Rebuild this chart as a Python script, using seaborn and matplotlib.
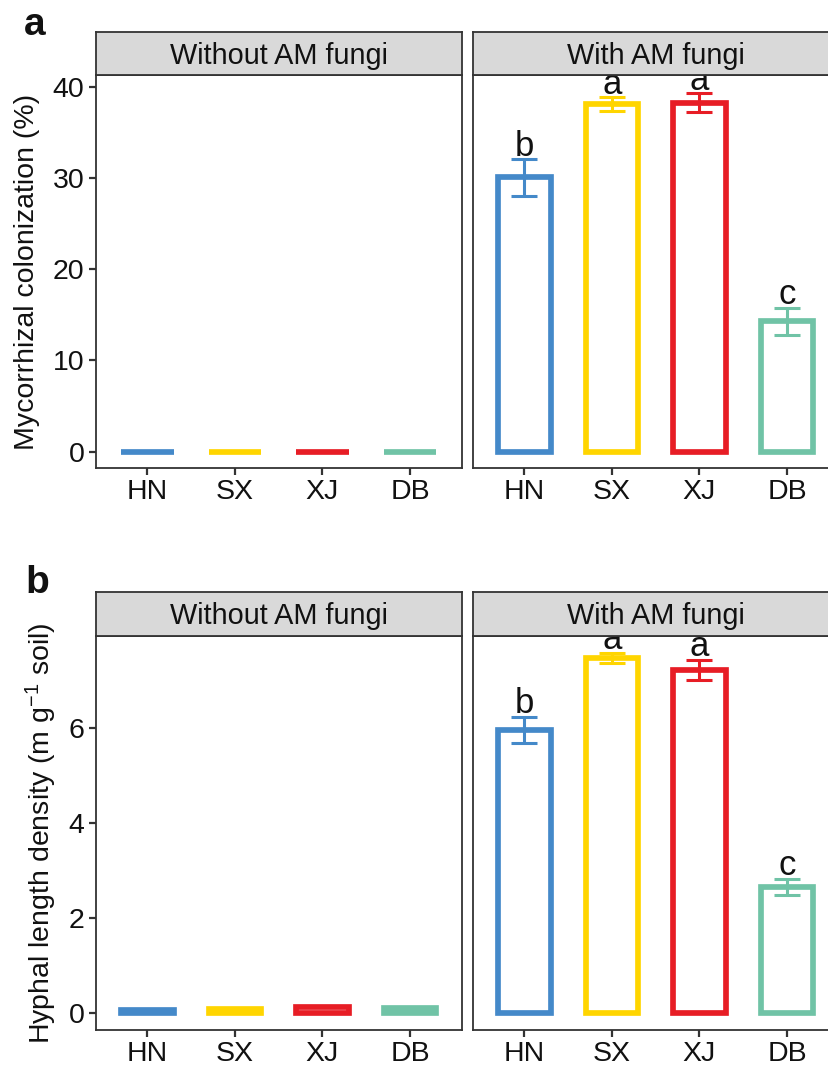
import matplotlib
matplotlib.use("Agg")
import matplotlib.pyplot as plt
import seaborn as sns
import pandas as pd

# data
sites = ["HN", "SX", "XJ", "DB"]
colors = ["#4489C9", "#FFD500", "#E71D25", "#70C3A6"]
facets = ["Without AM fungi", "With AM fungi"]

col_without = [0.0, 0.0, 0.0, 0.0]
col_with = [30.05, 38.1, 38.24, 14.3]
col_with_se = [2.0, 0.75, 1.04, 1.5]
col_letters = ["b", "a", "a", "c"]

hyp_without = [0.07, 0.10, 0.14, 0.11]
hyp_with = [5.96, 7.48, 7.23, 2.66]
hyp_with_se = [0.28, 0.11, 0.21, 0.17]
hyp_letters = ["b", "a", "a", "c"]

sns.set_style("white")
plt.rcParams["font.family"] = ["Liberation Sans", "DejaVu Sans"]
plt.rcParams["mathtext.fontset"] = "custom"
plt.rcParams["mathtext.rm"] = "Liberation Sans"
plt.rcParams["mathtext.it"] = "Liberation Sans:italic"

W, H = 829, 1072
fig = plt.figure(figsize=(W / 100, H / 100), dpi=100)

FS = 20.5
dark = "#333333"
txt = "#111111"


def px_axes(x0, y0, x1, y1):
    return fig.add_axes([x0 / W, 1 - y1 / H, (x1 - x0) / W, (y1 - y0) / H])


def facet(x0, x1, top, strip_top, bottom, title, vals, se, letters, ylim, yticks, show_y):
    ax = px_axes(x0, top, x1, bottom)
    df = pd.DataFrame({"site": sites, "value": vals})
    sns.barplot(data=df, x="site", y="value", hue="site", palette=colors,
                fill=False, linewidth=4.1, width=0.6, errorbar=None,
                legend=False, ax=ax)
    for p in ax.patches:
        p.set_joinstyle("miter")
        p.set_facecolor("white")
    if se is not None:
        for i, (v, e, c, l) in enumerate(zip(vals, se, colors, letters)):
            ax.errorbar(i, v, yerr=e, color=c, capsize=9.5, elinewidth=2.2,
                        capthick=2.2, fmt="none", zorder=3)
            t = ax.annotate(l, xy=(i, v + e), xytext=(0, 2.5), textcoords="offset points",
                            ha="center", va="baseline", fontsize=25, color=txt)
            # letters are clipped at the panel edge, like in ggplot
            t.set_clip_box(ax.bbox)
            t.set_clip_on(True)
    ax.set_xlim(-0.59, 3.59)
    ax.set_ylim(*ylim)
    ax.set_yticks(yticks)
    ax.set_xlabel("")
    ax.set_ylabel("")
    ax.tick_params(axis="both", length=5, width=1.6, color=dark,
                   labelsize=FS, labelcolor=txt, pad=3, direction="out",
                   bottom=True, left=True)
    if not show_y:
        ax.tick_params(axis="y", left=False, labelleft=False)
    for s in ax.spines.values():
        s.set_color(dark)
        s.set_linewidth(1.3)
    # strip
    st = px_axes(x0, strip_top, x1, top)
    st.set_facecolor("#D9D9D9")
    st.set_xticks([])
    st.set_yticks([])
    for s in st.spines.values():
        s.set_color(dark)
        s.set_linewidth(1.3)
    st.text(0.5, 0.45, title, transform=st.transAxes,
            ha="center", va="center", fontsize=20.8, color=txt)
    return ax


LX0, LX1 = 95.7, 461.7
RX0, RX1 = 472.7, 838.7

# panel a
a1 = facet(LX0, LX1, 75, 32, 468.3, facets[0], col_without, None, None,
           (-1.82, 41.28), [0, 10, 20, 30, 40], True)
a2 = facet(RX0, RX1, 75, 32, 468.3, facets[1], col_with, col_with_se, col_letters,
           (-1.82, 41.28), [0, 10, 20, 30, 40], False)
a1.set_ylabel("Mycorrhizal colonization (%)", fontsize=FS, color=txt, labelpad=9)

# panel b
b1 = facet(LX0, LX1, 636, 592, 1030, facets[0], hyp_without, None, None,
           (-0.35, 7.94), [0, 2, 4, 6], True)
b2 = facet(RX0, RX1, 636, 592, 1030, facets[1], hyp_with, hyp_with_se, hyp_letters,
           (-0.35, 7.94), [0, 2, 4, 6], False)
b1.set_ylabel("Hyphal length density (m g$^{-1}$ soil)", fontsize=FS,
              color=txt, labelpad=7)

fig.text(24 / W, 1 - 35 / H, "a", fontsize=28, fontweight="bold", color=txt,
         va="baseline")
fig.text(25 / W, 1 - 593 / H, "b", fontsize=28, fontweight="bold", color=txt,
         va="baseline")

fig.savefig("out.png", dpi=100, facecolor="white")
